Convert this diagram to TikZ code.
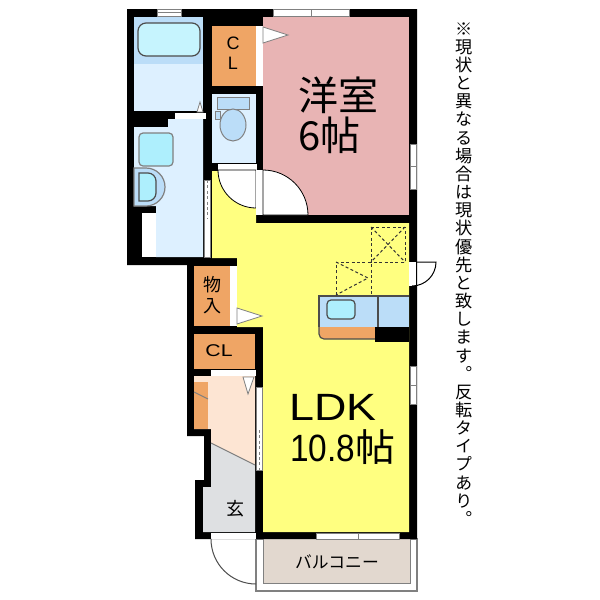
\documentclass[tikz,border=0pt]{standalone}
\usepackage{xcolor}
\usepackage{fontspec}
\setmainfont{Liberation Sans}
\newfontfamily\cjk{Noto Sans CJK JP}
\newfontfamily\vertcjk[RawFeature=+vert]{Noto Sans CJK JP}
\lineskiplimit=-20pt
\pgfdeclarelayer{nodelayer}
\pgfdeclarelayer{edgelayer}
\pgfsetlayers{edgelayer,nodelayer,main}
\definecolor{wetblue}{HTML}{BBDDF8}
\definecolor{paleblue}{HTML}{DDF0FF}
\definecolor{sinkblue}{HTML}{AEEFFD}
\definecolor{storage}{HTML}{EFA565}
\definecolor{bedroom}{HTML}{E8B4B4}
\definecolor{living}{HTML}{FFFF80}
\definecolor{hall}{HTML}{FDE5D3}
\definecolor{porch}{HTML}{DEE0E2}
\definecolor{deck}{HTML}{E2D8CF}
\definecolor{frame}{HTML}{808080}
\tikzstyle{room label}=[inner sep=0pt, text=black, font=\fontsize{9}{9}\selectfont\cjk]
\tikzstyle{cl label}=[inner sep=0pt, text=black, font=\fontsize{9}{9}\selectfont]
\tikzstyle{big label}=[inner sep=0pt, text=black, font=\fontsize{20}{20}\selectfont\cjk, anchor=west]
\tikzstyle{wall}=[fill=black, draw=none]
\tikzstyle{opening}=[fill=white, draw=frame, line width=0.4pt]
\tikzstyle{fitting}=[fill=sinkblue, draw=black!70, line width=0.6pt, rounded corners=2pt]
\tikzstyle{hatch}=[draw=black!80, dashed, dash pattern=on 1.5pt off 1.2pt, line width=0.5pt]

\begin{document}
\begin{tikzpicture}[x=0.5pt, y=-0.5pt]
	\useasboundingbox (0, 0) rectangle (600, 600);
	\begin{pgfonlayer}{edgelayer}
		\fill [white] (0, 0) rectangle (600, 600);
		\filldraw [style=opening, fill=white, line width=0.6pt] (256, 539) rectangle (417, 591);
		\fill [deck] (263, 539) rectangle (410, 583);
		\draw [frame, line width=0.5pt] (263, 539) -- (263, 583) -- (410, 583) -- (410, 539);
		\path [style=wall] (127, 9) -- (417, 9) -- (417, 539) -- (195, 539) -- (195, 480) -- (204, 480) -- (204, 436) -- (187, 436) -- (187, 265) -- (127, 265) -- cycle;
		\fill [wetblue] (134, 17) rectangle (203, 64);
		\fill [paleblue] (134, 64) rectangle (203, 111);
		\draw [fitting, fill=sinkblue!70!white, rounded corners=4pt] (138, 23) rectangle (200, 56);
		\fill [paleblue] (134, 127) -- (168, 127) -- (168, 119) -- (203, 119) -- (203, 257) -- (156, 257) -- (156, 206) -- (134, 206) -- cycle;
		\fill [white] (142, 213) rectangle (156, 257);
		\fill [storage] (212, 26) rectangle (256, 86);
		\fill [paleblue] (212, 94) rectangle (256, 163);
		\fill [bedroom] (263, 17) rectangle (409, 215);
		\fill [living] (212, 171) -- (256, 171) -- (256, 223) -- (409, 223) -- (409, 532) -- (263, 532) -- (263, 327) -- (237, 327) -- (237, 258) -- (212, 258) -- cycle;
		\fill [storage] (194, 266) rectangle (230, 326);
		\fill [storage] (194, 334) rectangle (255, 369);
		\fill [hall] (194, 376) -- (255, 376) -- (255, 465) -- (211, 443) -- (211, 429) -- (194, 429) -- cycle;
		\fill [porch] (211, 443) -- (255, 465) -- (255, 532) -- (203, 532) -- (203, 487) -- (211, 487) -- cycle;
		\fill [storage] (194, 382) rectangle (208, 429);
		\draw [frame, line width=0.5pt] (194, 392) -- (208, 399);
		\draw [frame, line width=0.5pt] (211, 443) -- (255, 465);
		\draw [fitting, draw=frame, fill=sinkblue] (139, 133) rectangle (173, 166);
		\draw [fitting, draw=frame, fill=wetblue, rounded corners=0pt] (134, 168) -- (146, 168) arc (-90:90:19) -- (134, 206) -- cycle;
		\draw [fitting, rounded corners=0pt] (139, 173) -- (148, 173) arc (-90:0:8) -- (156, 193) arc (0:90:8) -- (139, 201) -- cycle;
		\draw [frame, line width=0.4pt, fill=wetblue] (217, 97) rectangle (249, 109);
		\draw [frame, line width=0.4pt, fill=wetblue] (215, 111) rectangle (220, 119);
		\draw [draw=frame, fill=wetblue, line width=0.5pt] (233, 125) ellipse (13 and 16);
		\draw [opening] (157, 9) rectangle (181, 16);
		\draw [frame, line width=0.4pt] (157, 12) -- (181, 12);
		\draw [opening] (273, 9) rectangle (349, 16);
		\draw [frame, line width=0.4pt] (311, 10) -- (311, 16);
		\draw [opening] (410, 144) rectangle (416, 189);
		\draw [frame, line width=0.4pt] (410, 166) -- (416, 166);
		\draw [opening] (410, 366) rectangle (416, 404);
		\draw [frame, line width=0.4pt] (410, 385) -- (416, 385);
		\draw [opening] (316, 533) rectangle (399, 539);
		\draw [frame, line width=0.4pt] (358, 533) -- (358, 539);
		\draw [opening, draw=none] (175, 113) rectangle (206, 119);
		\draw [opening] (197, 112) -- (200, 102) -- (203, 112) -- cycle;
		\draw [opening, draw=none] (256, 26) rectangle (263, 86);
		\draw [opening, fill=white] (263, 27) -- (288, 35) -- (263, 43) -- cycle;
		\draw [opening, draw=none] (218, 164) rectangle (257, 170);
		\draw [opening, fill=white, draw=black] (218, 170) arc (180:90:38) -- (256, 170) -- cycle;
		\draw [opening, draw=none] (256, 170) rectangle (263, 215);
		\draw [opening, fill=white, draw=black] (263, 170) arc (-90:0:45) -- (263, 215) -- cycle;
		\draw [opening] (204, 180) rectangle (210, 257);
		\draw [hatch, draw=frame] (207, 180) -- (207, 218);
		\draw [opening, draw=none] (230, 266) rectangle (237, 326);
		\draw [opening, fill=white] (237, 308) -- (262, 316) -- (237, 324) -- cycle;
		\draw [opening, draw=none] (211, 370) rectangle (256, 376);
		\draw [opening, fill=white] (243, 377) -- (254, 377) -- (248, 394) -- cycle;
		\draw [opening] (256, 387) rectangle (262, 470);
		\draw [hatch, draw=frame] (259, 430) -- (259, 470);
		\draw [opening, draw=none] (211, 533) rectangle (256, 539);
		\draw [frame!60!black, line width=0.5pt] (211, 539) arc (180:90:45);
		\draw [opening, draw=none] (409, 262) rectangle (416, 286);
		\draw [black, line width=0.5pt] (416, 262) -- (436, 262) arc (0:90:24 and 24);
		\fill [wetblue] (319, 296) rectangle (409, 327);
		\draw [black!70, line width=0.6pt] (319, 327) -- (319, 296) -- (409, 296);
		\draw [black!70, line width=0.6pt] (378, 296) -- (378, 327);
		\draw [fitting, fill=sinkblue] (327, 300) rectangle (355, 319);
		\fill [storage] (319, 327) -- (375, 327) -- (375, 339) -- (324, 339) arc (90:180:5) -- cycle;
		\draw [black!70, line width=0.6pt] (319, 327) -- (319, 334) arc (180:90:5) -- (375, 339);
		\fill [style=wall] (375, 327) rectangle (409, 342);
		\draw [hatch] (371, 227) rectangle (405, 262);
		\draw [hatch] (371, 227) -- (405, 262);
		\draw [hatch] (405, 227) -- (371, 262);
		\draw [hatch] (336, 295) -- (336, 262) -- (371, 262) -- (371, 295);
		\draw [hatch] (336, 262) -- (368, 278) -- (336, 295);
	\end{pgfonlayer}
	\begin{pgfonlayer}{nodelayer}
		\node [style=big label] (bedroom name) at (298, 95) {洋室};
		\node [style=big label] (bedroom size) at (298, 135) {6帖};
		\node [style=cl label] (cl upper) at (233, 43) {C};
		\node [style=cl label] (cl lower) at (233, 63) {L};
		\node [style=room label] (store upper) at (212, 285) {物};
		\node [style=room label] (store lower) at (212, 306) {入};
		\node [style=cl label, font=\fontsize{8.5}{8.5}\selectfont, xscale=1.25] (cl hall) at (219, 351) {CL};
		\node [style=room label] (entry) at (235, 509) {玄};
		\node [style=big label, font=\fontsize{19}{19}\selectfont, xscale=1.18] (ldk name) at (289, 407) {LDK};
		\node [style=big label, font=\fontsize{19}{19}\selectfont] (ldk size) at (290, 447) {\scalebox{0.88}[1]{10.8}{\cjk\scalebox{1.05}[1]{帖}}};
		\node [style=room label, font=\fontsize{8.4}{8.4}\selectfont\cjk] (balcony) at (337, 562) {バルコニー};
		\node [anchor=north, align=center, inner sep=0pt, font=\fontsize{8.6}{9.08}\selectfont\vertcjk] (note) at (464, 22) {※\\現\\状\\と\\異\\な\\る\\場\\合\\は\\現\\状\\優\\先\\と\\致\\し\\ま\\す\\。\\反\\転\\タ\\イ\\プ\\あ\\り\\。};
	\end{pgfonlayer}
\end{tikzpicture}
\end{document}
